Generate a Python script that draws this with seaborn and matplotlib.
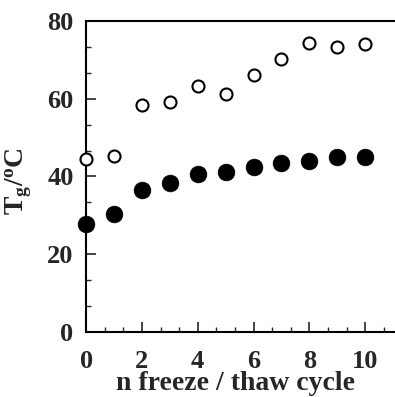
import matplotlib
matplotlib.use("Agg")
import matplotlib.pyplot as plt
import seaborn as sns
import pandas as pd
import numpy as np
from matplotlib.ticker import MultipleLocator

cycles = [0, 1, 2, 3, 4, 5, 6, 7, 8, 9, 10]
tg_open = [44.5, 45.3, 58.4, 59.2, 63.2, 61.2, 66.2, 70.2, 74.4, 73.2, 74.0]
tg_filled = [27.8, 30.4, 36.5, 38.4, 40.7, 41.2, 42.5, 43.5, 44.0, 44.9, 44.9]
xticks = [0, 2, 4, 6, 8, 10]
yticks = [0, 20, 40, 60, 80]

sns.set_style("white")
plt.rcParams["font.family"] = ["Liberation Serif", "DejaVu Serif"]
plt.rcParams["font.weight"] = "bold"
plt.rcParams["mathtext.fontset"] = "custom"
plt.rcParams["mathtext.rm"] = "Liberation Serif:bold"
plt.rcParams["mathtext.it"] = "Liberation Serif:bold"
plt.rcParams["mathtext.bf"] = "Liberation Serif:bold"

df_open = pd.DataFrame({"n": cycles, "Tg": tg_open})
df_filled = pd.DataFrame({"n": cycles, "Tg": tg_filled})

fig = plt.figure(figsize=(3.95, 3.97), dpi=100)
ax = fig.add_axes([0.218, 0.164, 0.782, 0.783])

sns.scatterplot(data=df_open, x="n", y="Tg", ax=ax, s=75, facecolor="white",
                edgecolor="black", linewidth=1.5, clip_on=False, zorder=3)
sns.scatterplot(data=df_filled, x="n", y="Tg", ax=ax, s=145, color="black",
                edgecolor="black", linewidth=0.5, clip_on=False, zorder=3)

ax.set_xlim(0, 11.07)
ax.set_ylim(0, 80)
ax.set_xticks(xticks)
ax.set_yticks(yticks)
ax.xaxis.set_minor_locator(MultipleLocator(2 / 3))
ax.yaxis.set_minor_locator(MultipleLocator(20 / 3))
ax.tick_params(which="major", direction="in", length=7, width=1.2, labelsize=19)
ax.tick_params(axis="x", which="major", pad=13)
ax.tick_params(axis="y", which="major", pad=9)
ax.tick_params(which="minor", direction="in", length=3.5, width=1.0)
ax.tick_params(axis="y", which="both", left=True)
ax.tick_params(axis="x", which="both", bottom=True)
for lab in ax.get_xticklabels() + ax.get_yticklabels():
    lab.set_fontweight("bold")

for s in ["left", "bottom", "top"]:
    ax.spines[s].set_visible(True)
    ax.spines[s].set_color("black")
    ax.spines[s].set_linewidth(1.5)
ax.spines["right"].set_visible(False)

ax.set_xlabel("n freeze / thaw cycle", fontsize=20, fontweight="bold")
ax.xaxis.label.set_va("baseline")
ax.xaxis.set_label_coords(0.485, -0.186)
ax.set_ylabel(r"T$_\mathrm{g}$/$^\mathrm{o}$C", fontsize=20, fontweight="bold")
ax.yaxis.label.set_va("center")
ax.yaxis.set_label_coords(-0.22, 0.485)

fig.savefig("out.png", dpi=100)
